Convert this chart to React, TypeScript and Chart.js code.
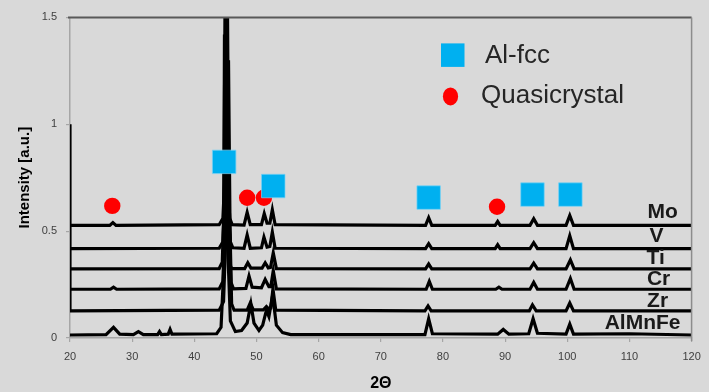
import { useEffect, useRef } from "react";
import { Chart, registerables } from "chart.js";

Chart.register(...registerables);

// ---------- data ----------
const xTickValues = [20, 30, 40, 50, 60, 70, 80, 90, 100, 110, 120];
const yTickValues = [0, 0.5, 1, 1.5];

const seriesNames = ["Mo", "V", "Ti", "Cr", "Zr", "AlMnFe"];
const seriesBaselines = [0.527, 0.418, 0.323, 0.228, 0.127, 0.014];

const moPoints: [number, number][] = [
  [20, 0.527], [26.4, 0.527], [26.9, 0.54], [27.4, 0.527], [44.0, 0.53], [44.6, 0.56],
  [44.9, 0.75], [45.1, 1.65], [45.35, 0.75], [45.7, 0.56], [46.1, 0.53], [48.0, 0.528],
  [48.5, 0.588], [49.0, 0.53], [50.8, 0.53], [51.25, 0.582], [51.7, 0.537], [52.15, 0.537],
  [52.55, 0.6], [53.0, 0.53], [77.2, 0.527], [77.7, 0.563], [78.2, 0.527], [88.4, 0.527],
  [88.8, 0.545], [89.2, 0.527], [94.0, 0.527], [94.6, 0.558], [95.2, 0.527], [99.8, 0.527],
  [100.4, 0.573], [101.0, 0.527], [120, 0.527],
];
const vPoints: [number, number][] = [
  [20, 0.418], [44.0, 0.42], [44.6, 0.45], [44.95, 0.7], [45.2, 1.75], [45.45, 0.7],
  [45.8, 0.45], [46.2, 0.422], [48.0, 0.42], [48.5, 0.482], [49.0, 0.42], [50.8, 0.422],
  [51.2, 0.472], [51.7, 0.425], [52.15, 0.428], [52.55, 0.495], [53.0, 0.42], [77.2, 0.418],
  [77.7, 0.441], [78.2, 0.418], [88.4, 0.418], [88.8, 0.436], [89.2, 0.418], [94.0, 0.418],
  [94.6, 0.446], [95.2, 0.418], [99.8, 0.418], [100.4, 0.478], [101.0, 0.418], [120, 0.418],
];
const tiPoints: [number, number][] = [
  [20, 0.323], [44.0, 0.325], [44.5, 0.355], [44.75, 0.6], [44.85, 1.42], [45.2, 0.6],
  [45.6, 0.35], [46.0, 0.325], [48.1, 0.325], [48.6, 0.352], [49.1, 0.327], [50.9, 0.327],
  [51.4, 0.352], [51.9, 0.328], [52.25, 0.33], [52.7, 0.398], [53.2, 0.325], [77.2, 0.323],
  [77.7, 0.346], [78.2, 0.323], [94.0, 0.323], [94.6, 0.35], [95.2, 0.323], [99.8, 0.323],
  [100.5, 0.365], [101.1, 0.323], [120, 0.323],
];
const crPoints: [number, number][] = [
  [20, 0.228], [26.5, 0.228], [27.0, 0.238], [27.5, 0.228], [44.0, 0.23], [44.6, 0.265],
  [45.0, 0.6], [45.3, 1.7], [45.55, 0.6], [45.9, 0.26], [46.3, 0.23], [48.3, 0.232],
  [48.8, 0.29], [49.3, 0.238], [50.8, 0.235], [51.4, 0.274], [52.0, 0.24], [52.3, 0.24],
  [52.7, 0.315], [53.2, 0.23], [77.3, 0.228], [77.8, 0.265], [78.3, 0.228], [88.5, 0.228],
  [89.0, 0.238], [89.5, 0.228], [94.0, 0.228], [94.6, 0.26], [95.2, 0.228], [99.8, 0.228],
  [100.5, 0.278], [101.1, 0.228], [120, 0.228],
];
const zrPoints: [number, number][] = [
  [20, 0.127], [44.0, 0.13], [44.7, 0.17], [45.1, 0.5], [45.5, 1.3], [45.75, 0.5],
  [46.0, 0.16], [46.4, 0.13], [48.5, 0.13], [49.0, 0.164], [49.5, 0.132], [51.1, 0.132],
  [51.6, 0.147], [52.0, 0.135], [52.3, 0.14], [52.65, 0.23], [53.1, 0.13], [77.1, 0.127],
  [77.6, 0.15], [78.1, 0.127], [93.9, 0.127], [94.4, 0.155], [95.0, 0.127], [99.8, 0.127],
  [100.4, 0.164], [101.0, 0.127], [120, 0.127],
];
const alMnFePoints: [number, number][] = [
  [20, 0.014], [25.8, 0.016], [27.0, 0.05], [28.0, 0.018], [30.2, 0.016], [31.0, 0.03],
  [31.8, 0.016], [34.1, 0.016], [34.4, 0.03], [34.7, 0.016], [35.8, 0.018], [36.1, 0.04],
  [36.4, 0.018], [43.6, 0.02], [44.3, 0.05], [44.7, 0.3], [45.0, 1.9], [45.4, 0.4],
  [45.8, 0.08], [46.6, 0.03], [47.6, 0.035], [48.5, 0.07], [49.1, 0.16], [49.6, 0.07],
  [50.4, 0.035], [51.0, 0.06], [51.6, 0.13], [52.0, 0.1], [52.6, 0.2], [53.2, 0.06],
  [54.2, 0.025], [55.5, 0.016], [77.1, 0.016], [77.7, 0.09], [78.3, 0.02], [88.8, 0.018],
  [89.7, 0.04], [90.6, 0.018], [93.8, 0.02], [94.5, 0.09], [95.2, 0.022], [99.8, 0.018],
  [100.4, 0.065], [101.0, 0.018], [110, 0.02], [120, 0.014],
];
const edgePoints: [number, number][] = [[20, 1.0], [20, 0.127]];

const alFccAngles = [44.8, 52.7, 77.7, 94.4, 100.5];
const alFccLevels = [0.824, 0.711, 0.657, 0.671, 0.671];
const quasiAngles = [26.8, 48.5, 51.2, 88.7];
const quasiLevels = [0.618, 0.656, 0.656, 0.614];

const legendLabels = ["Al-fcc", "Quasicrystal"];
const xTitle = "2Θ";
const yTitle = "Intensity [a.u.]";

// ---------- styles / positions ----------
const FONT = "'Liberation Sans', Arial, sans-serif";
const BLUE = "#00b0f0";
const RED = "#ff0000";
const labelDx = [-29, -35, -36, -33, -34, -49];
const labelDy = [-13, -12, -11, -10, -10, -12];

const toXY = (pts: [number, number][]) => pts.map(([x, y]) => ({ x, y }));

const decorPlugin = {
  id: "decor",
  afterDatasetsDraw(chart: any) {
    const { ctx, chartArea: a, scales } = chart;
    const ys = scales.y;
    ctx.save();
    // top & right frame
    ctx.strokeStyle = "#595959";
    ctx.lineWidth = 2;
    ctx.beginPath();
    ctx.moveTo(a.left - 2, a.top);
    ctx.lineTo(a.right, a.top);
    ctx.stroke();
    ctx.strokeStyle = "#8c8c8c";
    ctx.lineWidth = 1.5;
    ctx.beginPath();
    ctx.moveTo(a.right, a.top);
    ctx.lineTo(a.right, a.bottom + 3);
    ctx.stroke();

    // series labels
    ctx.fillStyle = "#1a1a1a";
    ctx.font = `bold 21px ${FONT}`;
    ctx.textAlign = "center";
    ctx.textBaseline = "middle";
    seriesNames.forEach((n, i) => {
      ctx.fillText(n, a.right + labelDx[i], ys.getPixelForValue(seriesBaselines[i]) + labelDy[i]);
    });

    // legend
    ctx.fillStyle = BLUE;
    ctx.fillRect(a.left + 371, a.top + 26, 23.5, 23.5);
    ctx.fillStyle = RED;
    ctx.beginPath();
    ctx.ellipse(a.left + 380.5, a.top + 79, 7.6, 9, 0, 0, Math.PI * 2);
    ctx.fill();
    ctx.fillStyle = "#262626";
    ctx.font = `26px ${FONT}`;
    ctx.textAlign = "left";
    ctx.textBaseline = "alphabetic";
    ctx.fillText(legendLabels[0], a.left + 415, a.top + 46);
    ctx.fillText(legendLabels[1], a.left + 411, a.top + 86);

    // axis titles
    ctx.fillStyle = "#000";
    ctx.font = `bold 16px ${FONT}`;
    ctx.textAlign = "center";
    ctx.textBaseline = "middle";
    ctx.fillText(xTitle, (a.left + a.right) / 2, 384);
    ctx.save();
    ctx.translate(25, (a.top + a.bottom) / 2);
    ctx.rotate(-Math.PI / 2);
    ctx.font = `bold 15px ${FONT}`;
    ctx.fillText(yTitle, 0, 0);
    ctx.restore();
    ctx.restore();
  },
};

export default function App() {
  const ref = useRef<HTMLCanvasElement | null>(null);
  useEffect(() => {
    if (!ref.current) return;
    const lineDs = (pts: [number, number][]) => ({
      type: "line" as const,
      data: toXY(pts),
      borderColor: "#000",
      borderWidth: 3.2,
      pointRadius: 0,
      tension: 0,
      fill: false,
    });
    const chart = new Chart(ref.current, {
      type: "scatter",
      data: {
        datasets: [
          {
            label: "Al-fcc",
            data: alFccAngles.map((x, i) => ({ x, y: alFccLevels[i] })),
            pointStyle: "rect",
            pointRadius: 16.6,
            backgroundColor: BLUE,
            borderColor: "rgba(120,210,245,0.9)",
            borderWidth: 0.8,
          } as any,
          {
            label: "Quasicrystal",
            data: quasiAngles.map((x, i) => ({ x, y: quasiLevels[i] })),
            pointStyle: "circle",
            pointRadius: 8.2,
            backgroundColor: RED,
            borderColor: RED,
            borderWidth: 0,
          } as any,
          lineDs(moPoints),
          lineDs(vPoints),
          lineDs(tiPoints),
          lineDs(crPoints),
          lineDs(zrPoints),
          lineDs(alMnFePoints),
          lineDs(edgePoints),
        ],
      },
      options: {
        responsive: false,
        animation: false,
        devicePixelRatio: 1,
        layout: { padding: { left: 0, top: 15, right: 12, bottom: 0 } },
        plugins: { legend: { display: false }, tooltip: { enabled: false } },
        scales: {
          x: {
            type: "linear",
            min: 20,
            max: 120,
            afterBuildTicks: (s: any) => {
              s.ticks = xTickValues.map((v) => ({ value: v }));
            },
            afterFit: (s: any) => {
              s.height = 54;
            },
            grid: { drawOnChartArea: false, color: "#a6a6a6", tickLength: 4, lineWidth: 1.2 },
            border: { color: "#a6a6a6", width: 1.5 },
            ticks: {
              color: "#404040",
              font: { size: 11, family: FONT },
              padding: 8,
              maxRotation: 0,
              callback: (v: any) => String(v),
            },
          },
          y: {
            type: "linear",
            min: 0,
            max: 1.5,
            afterBuildTicks: (s: any) => {
              s.ticks = yTickValues.map((v) => ({ value: v }));
            },
            afterFit: (s: any) => {
              s.width = 70;
            },
            grid: { drawOnChartArea: false, color: "#a6a6a6", tickLength: 4, lineWidth: 1.2 },
            border: { color: "#a6a6a6", width: 1.5 },
            ticks: {
              color: "#404040",
              font: { size: 11, family: FONT },
              padding: 9,
              callback: (v: any) => String(v),
            },
          },
        },
      },
      plugins: [decorPlugin],
    } as any);
    return () => chart.destroy();
  }, []);
  return (
    <div
      style={{
        position: "fixed",
        left: 0,
        top: 0,
        width: 709,
        height: 392,
        background: "#d9d9d9",
      }}
    >
      <canvas ref={ref} width={709} height={392} style={{ display: "block" }} />
    </div>
  );
}
